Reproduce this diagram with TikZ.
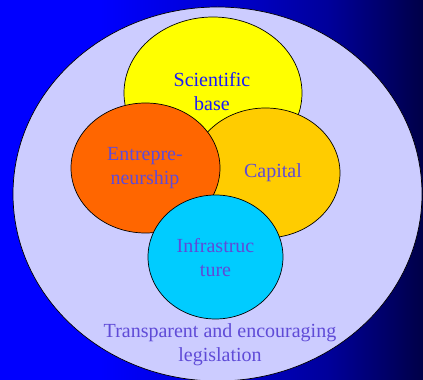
\documentclass[tikz,border=0pt]{standalone}
\usepackage{fontspec}
\setmainfont{Liberation Serif}
\usetikzlibrary{shapes.geometric}
\pgfdeclarehorizontalshading{bgshade}{100bp}{rgb(0bp)=(0,0,1); rgb(25bp)=(0,0,1); rgb(36.8bp)=(0,0,1); rgb(50bp)=(0,0,0.84); rgb(64bp)=(0,0,0.6); rgb(75bp)=(0,0,0.28); rgb(100bp)=(0,0,0.28)}
\definecolor{lav}{RGB}{204,204,255}
\definecolor{yel}{RGB}{255,255,0}
\definecolor{ora}{RGB}{255,102,0}
\definecolor{gold}{RGB}{255,204,0}
\definecolor{cya}{RGB}{0,204,255}
\definecolor{txtblue}{RGB}{25,25,250}
\definecolor{txtpurp}{RGB}{95,75,215}
\tikzset{
  blob/.style={ellipse, draw=black, line width=0.7pt, inner sep=0pt},
  lbl/.style={font=\fontsize{20}{24}\selectfont, align=center, text=txtpurp, inner sep=0pt},
}
\begin{document}
\begin{tikzpicture}[x=1pt,y=1pt]
\shade[shading=bgshade] (0,0) rectangle (423,380);
\useasboundingbox (0,0) rectangle (423,380);
\node[blob, fill=lav, minimum width=409pt, minimum height=374pt] (legis) at (217.5,186) {};
\node[blob, fill=yel, minimum width=178pt, minimum height=152pt] (sci) at (213,287) {};
\node[blob, fill=gold, minimum width=149pt, minimum height=130pt] (cap) at (265.5,207) {};
\node[blob, fill=ora, minimum width=149pt, minimum height=130pt] (ent) at (145.5,212) {};
\node[blob, fill=cya, minimum width=135pt, minimum height=124pt] (inf) at (215.5,123) {};
\node[lbl, text=txtblue] (sciT) at (212,288) {Scientific\\base};
\node[lbl] (capT) at (273,207) {Capital};
\node[lbl] (entT) at (145,212) {Entrepre-\\neurship};
\node[lbl] (infT) at (215.5,122) {Infrastruc\\ture};
\node[lbl] (legT) at (220,35) {Transparent and encouraging\\legislation};
\end{tikzpicture}
\end{document}
